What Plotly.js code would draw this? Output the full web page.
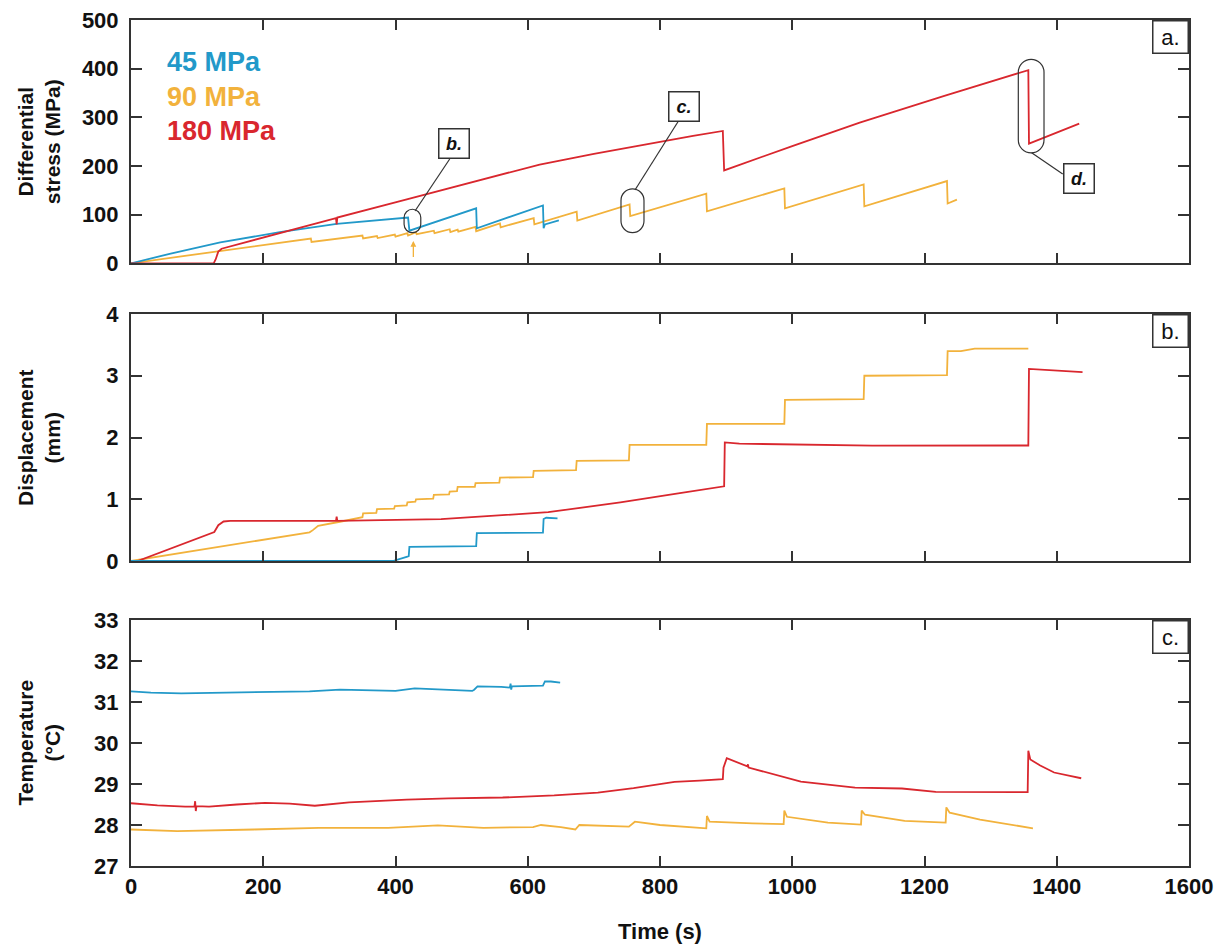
<!DOCTYPE html>
<html>
<head>
<meta charset="utf-8">
<script src="https://cdn.plot.ly/plotly-3.0.1.min.js"></script>
<style>html,body{margin:0;padding:0;background:#fff;}#chart{width:1229px;height:946px;}</style>
</head>
<body>
<div id="chart"></div>
<script>
// ---------------- DATA ----------------
const seriesNames = ['45 MPa', '90 MPa', '180 MPa'];

// Panel a: differential stress (MPa)
const blueStressT = [0, 60, 135, 225, 311, 376, 419, 421, 522, 523, 623, 624, 626, 647];
const blueStress  = [0, 20, 43, 64, 81, 89, 94, 67, 113, 72, 119, 72, 80, 88];

const orangeStressT = [0, 135, 272, 273, 350, 351, 372, 373, 399, 400, 418, 419, 431, 432, 458, 459, 482, 483, 494, 495, 521, 522, 558, 559, 609, 610, 674, 675, 754, 755, 870, 871, 988, 989, 1108, 1109, 1234, 1235, 1249];
const orangeStress  = [0, 25, 51, 44, 57, 51, 56, 52, 59, 55, 62, 57, 64, 60, 67, 62, 70, 64, 69, 65, 75, 66, 82, 74, 93, 80, 106, 88, 121, 97, 143, 107, 154, 113, 162, 117, 169, 123, 131];

const redStressT = [0, 125, 128, 132, 137, 310, 311, 312, 407, 540, 618, 700, 760, 810, 850, 895, 897, 1000, 1102, 1230, 1357, 1358, 1434];
const redStress  = [0, 0, 8, 24, 30, 93, 80, 94, 128, 176, 203, 225, 240, 252, 262, 272, 191, 241, 289, 344, 397, 246, 287];

// Panel b: displacement (mm)
const blueDispT = [0, 396, 418, 420, 421, 522, 523, 623, 624, 628, 645];
const blueDisp  = [0, 0, 0.07, 0.08, 0.23, 0.24, 0.45, 0.46, 0.68, 0.70, 0.69];

const orangeDispT = [0, 270, 275, 283, 318, 350, 351, 371, 372, 398, 399, 417, 418, 430, 431, 457, 458, 481, 482, 493, 494, 520, 521, 557, 558, 608, 609, 673, 674, 753, 754, 870, 871, 988, 989, 1108, 1109, 1234, 1235, 1255, 1276, 1357];
const orangeDisp  = [0, 0.465, 0.50, 0.57, 0.64, 0.71, 0.77, 0.78, 0.84, 0.85, 0.89, 0.90, 0.95, 0.96, 1.0, 1.01, 1.07, 1.08, 1.125, 1.13, 1.20, 1.20, 1.26, 1.27, 1.35, 1.36, 1.46, 1.47, 1.62, 1.63, 1.88, 1.88, 2.22, 2.22, 2.61, 2.62, 3.0, 3.01, 3.40, 3.40, 3.44, 3.44];

const redDispT = [0, 10, 126, 132, 140, 150, 310, 311, 312, 469, 631, 740, 830, 897, 898, 920, 1121, 1357, 1358, 1439];
const redDisp  = [0, 0, 0.47, 0.58, 0.64, 0.65, 0.65, 0.72, 0.65, 0.68, 0.79, 0.95, 1.10, 1.21, 1.92, 1.90, 1.87, 1.87, 3.11, 3.06];

// Panel c: temperature (°C)
const blueTempT = [0, 30, 76, 150, 215, 270, 316, 360, 400, 429, 470, 516, 519, 524, 560, 573, 574, 575, 576, 600, 623, 626, 635, 649];
const blueTemp  = [31.26, 31.23, 31.21, 31.23, 31.25, 31.26, 31.30, 31.28, 31.27, 31.33, 31.31, 31.27, 31.30, 31.38, 31.37, 31.35, 31.45, 31.30, 31.38, 31.39, 31.40, 31.50, 31.50, 31.47];

const orangeTempT = [0, 70, 186, 284, 389, 430, 464, 533, 608, 620, 650, 672, 678, 753, 762, 800, 869, 870, 871, 875, 940, 987, 988, 992, 1054, 1104, 1105, 1110, 1170, 1232, 1233, 1238, 1284, 1364];
const orangeTemp  = [27.89, 27.85, 27.89, 27.93, 27.93, 27.97, 27.99, 27.93, 27.95, 28.0, 27.95, 27.89, 28.0, 27.96, 28.08, 28.0, 27.92, 27.92, 28.22, 28.08, 28.04, 28.02, 28.35, 28.2, 28.06, 28.01, 28.35, 28.25, 28.10, 28.06, 28.43, 28.3, 28.13, 27.92];

const redTempT = [0, 40, 82, 96, 97, 98, 99, 118, 160, 203, 240, 278, 330, 417, 480, 562, 640, 706, 760, 822, 860, 895, 896, 901, 932, 933, 934, 972, 1013, 1095, 1166, 1217, 1351, 1356, 1357, 1360, 1375, 1396, 1420, 1437];
const redTemp  = [28.53, 28.48, 28.45, 28.45, 28.58, 28.34, 28.46, 28.45, 28.50, 28.54, 28.52, 28.47, 28.55, 28.62, 28.65, 28.67, 28.72, 28.79, 28.90, 29.05, 29.08, 29.12, 29.40, 29.63, 29.43, 29.48, 29.40, 29.23, 29.06, 28.91, 28.89, 28.81, 28.80, 28.80, 29.81, 29.60, 29.45, 29.28, 29.20, 29.14];

// axis ticks
const xTicks = [0, 200, 400, 600, 800, 1000, 1200, 1400, 1600];
const stressTicks = [0, 100, 200, 300, 400, 500];
const dispTicks = [0, 1, 2, 3, 4];
const tempTicks = [27, 28, 29, 30, 31, 32, 33];

// ---------------- STYLE ----------------
const BLUE = '#2299c9', ORANGE = '#f2b23c', RED = '#d9272e';
const FONT = 'Liberation Sans, Arial, Helvetica, sans-serif';
const AX = '#333333';

function line(x, y, color, xa, ya) {
  return {type: 'scatter', mode: 'lines', x: x, y: y, xaxis: xa, yaxis: ya,
          line: {color: color, width: 1.8}, hoverinfo: 'skip', showlegend: false};
}

const traces = [
  line(orangeStressT, orangeStress, ORANGE, 'x', 'y'),
  line(blueStressT, blueStress, BLUE, 'x', 'y'),
  line(redStressT, redStress, RED, 'x', 'y'),
  line(orangeDispT, orangeDisp, ORANGE, 'x2', 'y2'),
  line(redDispT, redDisp, RED, 'x2', 'y2'),
  line(blueDispT, blueDisp, BLUE, 'x2', 'y2'),
  line(blueTempT, blueTemp, BLUE, 'x3', 'y3'),
  line(orangeTempT, orangeTemp, ORANGE, 'x3', 'y3'),
  line(redTempT, redTemp, RED, 'x3', 'y3'),
];

// geometry
const W = 1229, H = 946, ML = 131, MR = 40, MT = 20, MB = 80;
const plotW = W - ML - MR, plotH = H - MT - MB;
const domA = [0.7124, 1], domB = [0.3605, 0.6525], domC = [0, 0.2908];
const kx = plotW / 1600;
const kyA = (domA[1] - domA[0]) * plotH / 500;

function axisX(anchor, labels) {
  return {domain: [0, 1], range: [0, 1600], anchor: anchor, tickvals: xTicks,
          showticklabels: labels, ticks: 'inside', ticklen: 10, tickwidth: 2, tickcolor: AX,
          showline: true, linewidth: 2, linecolor: AX, mirror: 'ticks',
          showgrid: false, zeroline: false,
          tickfont: {family: FONT, size: 22, color: '#111', weight: 'bold'}};
}
function axisY(anchor, dom, rng, tv) {
  return {domain: dom, range: rng, anchor: anchor, tickvals: tv,
          ticks: 'inside', ticklen: 11, tickwidth: 2, tickcolor: AX,
          showline: true, linewidth: 2, linecolor: AX, mirror: 'ticks',
          showgrid: false, zeroline: false, ticklabelstandoff: 6,
          tickfont: {family: FONT, size: 22, color: '#111', weight: 'bold'}};
}

// stadium (rounded capsule) in data coords of panel a
function stadium(cx, cy, wpx, hpx) {
  const r = wpx / 2, s = Math.max(hpx / 2 - r, 0), k = 0.5523;
  const P = (dx, dy) => (cx + dx / kx).toFixed(3) + ',' + (cy + dy / kyA).toFixed(3);
  return 'M' + P(-r, s) + ' L' + P(-r, -s) +
    ' C' + P(-r, -s - k * r) + ' ' + P(-k * r, -s - r) + ' ' + P(0, -s - r) +
    ' C' + P(k * r, -s - r) + ' ' + P(r, -s - k * r) + ' ' + P(r, -s) +
    ' L' + P(r, s) +
    ' C' + P(r, s + k * r) + ' ' + P(k * r, s + r) + ' ' + P(0, s + r) +
    ' C' + P(-k * r, s + r) + ' ' + P(-r, s + k * r) + ' ' + P(-r, s) + ' Z';
}

const shapeLine = {color: '#333', width: 1.2};
const shapes = [
  {type: 'path', xref: 'x', yref: 'y', path: stadium(425.6, 87, 16.7, 23.4), line: shapeLine},
  {type: 'path', xref: 'x', yref: 'y', path: stadium(758.4, 108, 23, 43.7), line: shapeLine},
  {type: 'path', xref: 'x', yref: 'y', path: stadium(1361.3, 323, 25.7, 93.4), line: shapeLine},
  {type: 'line', xref: 'x', yref: 'y', x0: 482, y0: 214.4, x1: 429.5, y1: 107.5, line: shapeLine},
  {type: 'line', xref: 'x', yref: 'y', x0: 827.2, y0: 291, x1: 762.2, y1: 150.6, line: shapeLine},
  {type: 'line', xref: 'x', yref: 'y', x0: 1409, y0: 183.5, x1: 1362, y1: 227.3, line: shapeLine},
];

function boxNote(x, y, txt) {
  return {xref: 'x', yref: 'y', x: x, y: y, text: '<b><i>' + txt + '</i></b>', showarrow: false,
          font: {family: FONT, size: 18, color: '#111'}, bgcolor: '#fff',
          bordercolor: '#333', borderwidth: 1.5, borderpad: 0, width: 29, height: 28,
          xanchor: 'center', yanchor: 'middle'};
}
function panelLabel(yref, txt) {
  return {xref: 'x domain', yref: yref + ' domain', x: 1, y: 1, xanchor: 'right', yanchor: 'top',
          text: txt, showarrow: false, font: {family: FONT, size: 22, color: '#111'},
          bgcolor: '#fff', bordercolor: '#333', borderwidth: 1.5, borderpad: 0, width: 34, height: 31};
}
function yTitle(yc, txt) {
  return {xref: 'paper', yref: 'paper', x: (38.5 - ML) / plotW, y: yc, xanchor: 'center', yanchor: 'middle',
          text: txt, textangle: -90, showarrow: false,
          font: {family: FONT, size: 21, color: '#111', weight: 'bold'}};
}
function legendText(yd, txt, color) {
  return {xref: 'x domain', yref: 'y domain', x: (165 - ML) / plotW, y: yd, xanchor: 'left', yanchor: 'middle',
          text: txt, showarrow: false, font: {family: FONT, size: 27, color: color, weight: 'bold'}};
}

const annotations = [
  legendText((243.3 - 42) / 243.3, seriesNames[0], BLUE),
  legendText((243.3 - 77) / 243.3, seriesNames[1], ORANGE),
  legendText((243.3 - 111) / 243.3, seriesNames[2], RED),
  boxNote(489, 246, 'b.'),
  boxNote(836, 323, 'c.'),
  boxNote(1434, 175, 'd.'),
  {xref: 'x', yref: 'y', axref: 'x', ayref: 'y', x: 427, y: 46, ax: 427, ay: 10, text: '',
   showarrow: true, arrowcolor: ORANGE, arrowwidth: 1.3, arrowhead: 2, arrowsize: 0.9},
  panelLabel('y', 'a.'),
  panelLabel('y2', 'b.'),
  panelLabel('y3', 'c.'),
  yTitle((domA[0] + domA[1]) / 2, 'Differential<br>stress (MPa)'),
  yTitle((domB[0] + domB[1]) / 2, 'Displacement<br>(mm)'),
  yTitle((domC[0] + domC[1]) / 2, 'Temperature<br>(°C)'),
  {xref: 'paper', yref: 'paper', x: 0.5, y: (0 - 65) / plotH, xanchor: 'center', yanchor: 'middle',
   text: 'Time (s)', showarrow: false, font: {family: FONT, size: 22, color: '#111', weight: 'bold'}},
];

const layout = {
  width: W, height: H, margin: {l: ML, r: MR, t: MT, b: MB},
  paper_bgcolor: '#fff', plot_bgcolor: '#fff', showlegend: false,
  font: {family: FONT, color: '#111'},
  xaxis: axisX('y', false),
  xaxis2: axisX('y2', false),
  xaxis3: axisX('y3', true),
  yaxis: axisY('x', domA, [0, 500], stressTicks),
  yaxis2: axisY('x2', domB, [0, 4], dispTicks),
  yaxis3: axisY('x3', domC, [27, 33], tempTicks),
  shapes: shapes, annotations: annotations,
};
layout.xaxis2.matches = 'x';
layout.xaxis3.matches = 'x';

Plotly.newPlot('chart', traces, layout, {staticPlot: true, displayModeBar: false});
</script>
</body>
</html>
